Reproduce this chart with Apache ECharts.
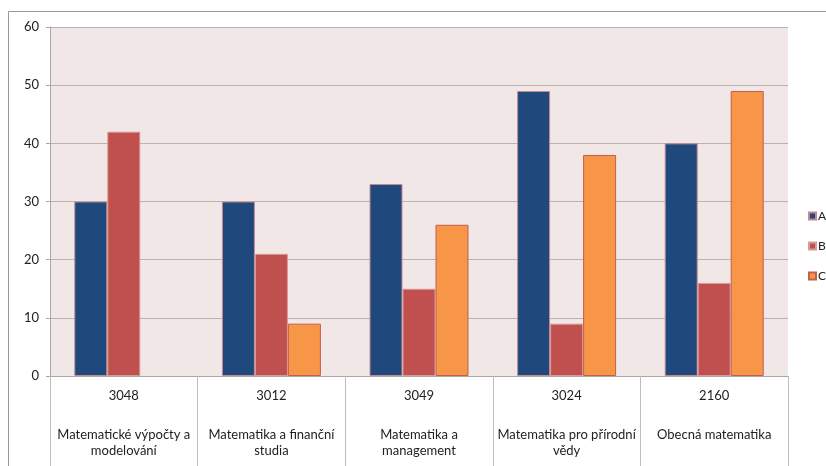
<!DOCTYPE html>
<html>
<head>
<meta charset="utf-8">
<script src="https://cdn.jsdelivr.net/npm/echarts@6/dist/echarts.min.js"></script>
<style>html,body{margin:0;padding:0;background:#fff;}#c{width:826px;height:466px;}</style>
</head>
<body>
<div id="c"></div>
<script>
const codes = ['3048', '3012', '3049', '3024', '2160'];
const names = ['Matematické výpočty a\nmodelování', 'Matematika a finanční\nstudia', 'Matematika a\nmanagement', 'Matematika pro přírodní\nvědy', 'Obecná matematika'];
const seriesNames = ['A', 'B', 'C'];
const valuesA = [30, 30, 33, 49, 40];
const valuesB = [42, 21, 15, 9, 16];
const valuesC = [null, 9, 26, 38, 49];
const yTicks = [0, 10, 20, 30, 40, 50, 60];

const colors = ['#1F497D', '#C0504D', '#F79646'];
const borders = ['#c48a92', '#d99a9a', '#c0604d'];
const categories = codes.map((c, i) => c + '|' + names[i]);
const font = 'Lato';

const chart = echarts.init(document.getElementById('c'));
const data = [valuesA, valuesB, valuesC];
chart.setOption({
  animation: false,
  backgroundColor: '#fff',
  textStyle: { fontFamily: font },
  graphic: [{
    type: 'rect', shape: { x: 8.5, y: 11.5, width: 900, height: 600 },
    style: { fill: 'none', stroke: '#9a9a9a', lineWidth: 1 }, z: -10
  }],
  grid: { left: 50, top: 27, right: 38, bottom: 90, containLabel: false,
          show: true, backgroundColor: '#F2E7E7', borderWidth: 0 },
  legend: {
    orient: 'vertical', left: 808, top: 210, padding: 0, itemWidth: 7, itemHeight: 7, itemGap: 18,
    icon: 'rect', textStyle: { fontFamily: font, fontSize: 12, color: '#222', padding: [0, 0, 0, -3], overflow: 'none' },
    data: seriesNames
  },
  xAxis: {
    type: 'category', data: categories,
    axisLine: { show: true, lineStyle: { color: '#a8a8a8' } },
    axisTick: { show: true, interval: 0, length: 90, lineStyle: { color: '#bdbdbd' } },
    axisLabel: {
      interval: 0, margin: 12, color: '#222', fontFamily: font, fontSize: 13,
      formatter: function (v) {
        const p = v.split('|');
        return '{c|' + p[0] + '}\n{g| }\n' + p[1].split('\n').map(s => '{n|' + s + '}').join('\n');
      },
      rich: {
        c: { lineHeight: 16, fontSize: 13, fontFamily: font, color: '#222' },
        g: { lineHeight: 23, fontSize: 13 },
        n: { lineHeight: 16, fontSize: 13, fontFamily: font, color: '#222' }
      }
    }
  },
  yAxis: {
    type: 'value', min: yTicks[0], max: yTicks[yTicks.length - 1], interval: 10,
    axisLine: { show: true, lineStyle: { color: '#a8a8a8' } },
    axisTick: { show: true, length: 4, lineStyle: { color: '#a8a8a8' } },
    axisLabel: { margin: 11, color: '#222', fontFamily: font, fontSize: 13 },
    splitLine: { show: true, lineStyle: { color: '#b9b2b2', width: 1 } }
  },
  series: seriesNames.map((n, i) => ({
    name: n, type: 'bar', data: data[i], barWidth: 33, barGap: '0%',
    itemStyle: { color: colors[i], borderColor: borders[i], borderWidth: 1 }
  }))
});
</script>
</body>
</html>
